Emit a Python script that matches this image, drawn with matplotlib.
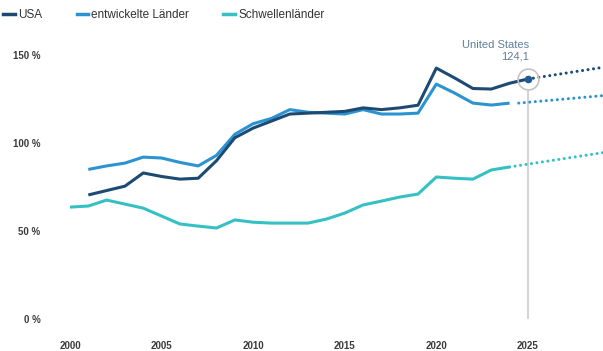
import matplotlib.pyplot as plt
from matplotlib.lines import Line2D

plt.rcParams['font.family'] = ['Liberation Sans', 'DejaVu Sans']

# Daten (Staatsverschuldung in % des BIP)
years_usa = list(range(2001, 2026))
usa = [70.5, 73, 75.5, 83, 81, 79.5, 80, 90, 103, 108.5, 112.5, 116.5, 117, 117.5, 118,
       120, 119, 120, 121.5, 142.6, 137, 131, 130.7, 134, 136.4]
years_dev = list(range(2001, 2025))
dev = [85, 87, 88.6, 92, 91.5, 89, 87, 93, 105, 111, 114, 119, 117.5, 117, 116.5,
       119, 116.5, 116.5, 117, 133.5, 128.4, 122.7, 121.6, 122.7]
years_em = list(range(2000, 2025))
em = [63.6, 64.2, 67.6, 65.3, 63, 58.5, 54, 52.8, 51.7, 56.3, 55, 54.5, 54.5, 54.5,
      56.8, 60.2, 64.8, 67, 69.3, 71, 80.7, 80, 79.5, 84.7, 86.4]

# Prognose (gepunktet)
proj_years_usa = [2025, 2030]
proj_usa = [136.4, 144.5]
proj_years_dev = [2024.5, 2030]
proj_dev = [122.7, 127.8]
proj_years_em = [2024, 2030]
proj_em = [86.4, 96.0]

c_usa = '#1c4a73'
c_dev = '#2b93d1'
c_em = '#35c1c4'

fig = plt.figure(figsize=(6.03, 3.51), dpi=100)
ax = fig.add_axes([0.0857, 0.0912, 0.9143, 0.802])

ax.plot(years_em, em, color=c_em, lw=2.2, solid_capstyle='butt')
ax.plot(years_dev, dev, color=c_dev, lw=2.2, solid_capstyle='butt')
ax.plot(years_usa, usa, color=c_usa, lw=2.2, solid_capstyle='butt')

dots = (0, (0.01, 1.8))
ax.plot(proj_years_em, proj_em, color=c_em, lw=2.2, ls=dots, dash_capstyle='round')
ax.plot(proj_years_dev, proj_dev, color=c_dev, lw=2.2, ls=dots, dash_capstyle='round')
ax.plot(proj_years_usa, proj_usa, color=c_usa, lw=2.2, ls=dots, dash_capstyle='round')

# Markierung 2025
ax.plot([2025, 2025], [0, usa[-1] - 6], color='#d0d0d0', lw=1.3, zorder=1)
ax.plot(2025, usa[-1], 'o', ms=15, mfc='none', mec='#c4c4c4', mew=1.2, zorder=4)
ax.plot(2025, usa[-1], 'o', ms=4.5, color='#1f5c94', zorder=5)
ax.text(2025.05, 155.5, 'United States', ha='right', va='center', fontsize=8, color='#5f7f9c')
ax.text(2025.05, 149.2, '124,1', ha='right', va='center', fontsize=8, color='#5f7f9c')

ax.set_xlim(1999, 2029.1)
ax.set_ylim(0, 160)
ax.set_xticks([2000, 2005, 2010, 2015, 2020, 2025])
ax.set_yticks([0, 50, 100, 150])
ax.set_yticklabels(['0 %', '50 %', '100 %', '150 %'])
ax.tick_params(length=0, labelsize=7, labelcolor='#3a3a3a')
ax.tick_params(axis='y', pad=8)
ax.tick_params(axis='x', pad=16)
for lbl in ax.get_xticklabels() + ax.get_yticklabels():
    lbl.set_fontweight('bold')
for s in ax.spines.values():
    s.set_visible(False)

handles = [Line2D([], [], color=c, lw=2.5) for c in (c_usa, c_dev, c_em)]
fig.legend(handles, ['USA', 'entwickelte Länder', 'Schwellenländer'],
           loc='upper left', bbox_to_anchor=(-0.012, 1.005), ncol=3, frameon=False,
           fontsize=8.5, handlelength=1.0, handletextpad=0.25, columnspacing=2.9,
           labelcolor='#333333')

fig.savefig('out.png', dpi=100)
